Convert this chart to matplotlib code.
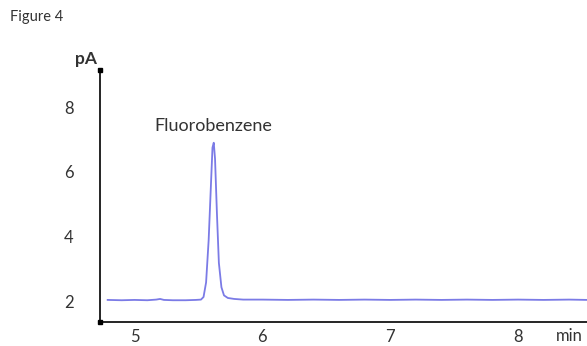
import matplotlib.pyplot as plt

# chromatogram (time in min, signal in pA)
time_min = [4.79, 4.90, 5.00, 5.10, 5.17, 5.20, 5.23, 5.30, 5.40, 5.48, 5.52,
            5.54, 5.56, 5.58, 5.60, 5.61, 5.62, 5.63, 5.645, 5.66, 5.68, 5.70,
            5.73, 5.78, 5.85, 6.00, 6.20, 6.40, 6.60, 6.80, 7.00, 7.20, 7.40,
            7.60, 7.80, 8.00, 8.20, 8.40, 8.54]
signal_pa = [2.06, 2.05, 2.06, 2.05, 2.07, 2.09, 2.06, 2.05, 2.05, 2.06, 2.07,
             2.15, 2.6, 3.9, 5.8, 6.75, 6.9, 6.4, 4.7, 3.2, 2.45, 2.2,
             2.12, 2.09, 2.07, 2.07, 2.06, 2.07, 2.06, 2.07, 2.06, 2.07, 2.06,
             2.07, 2.06, 2.07, 2.06, 2.07, 2.06]

x_ticks = [5, 6, 7, 8]
y_ticks = [2, 4, 6, 8]
peak_name = "Fluorobenzene"
peak_time = 5.62
peak_height = 6.9

plt.rcParams['font.family'] = ['Lato', 'DejaVu Sans']
text_color = "#333333"

fig = plt.figure(figsize=(5.87, 3.46), dpi=100)
fig.text(10 / 587, 1 - 17 / 346, "Figure 4", fontsize=10.5, color=text_color,
         va="center", ha="left")

ax = fig.add_axes([100 / 587, 24 / 346, 487 / 587, 252 / 346])
ax.plot(time_min, signal_pa, color="#7b7be6", lw=1.3)

ax.set_xlim(4.73, 8.54)
ax.set_ylim(1.38, 9.14)
ax.set_xticks(x_ticks)
ax.set_yticks(y_ticks)
ax.tick_params(length=0, labelsize=12, labelcolor=text_color, pad=5)
ax.tick_params(axis="y", pad=19)

for side in ["top", "right"]:
    ax.spines[side].set_visible(False)
for side in ["left", "bottom"]:
    ax.spines[side].set_color("black")
    ax.spines[side].set_linewidth(1.2)

# dots at the origin and the top of the y axis
ax.plot([0, 0], [0, 1], ls="none", marker="s", ms=3, color="black",
        transform=ax.transAxes, clip_on=False)

ax.annotate(peak_name, (peak_time, peak_height), xytext=(0, 6),
            textcoords="offset points", ha="center", va="bottom",
            fontsize=13, color=text_color)

ax.text(-0.006, 1.01, "pA", transform=ax.transAxes, ha="right", va="bottom",
        fontsize=12.5, color=text_color, fontweight="bold")
ax.text(8.40, -0.025, "min", transform=ax.get_xaxis_transform(), ha="center",
        va="top", fontsize=12, color=text_color)

fig.savefig("out.png", dpi=100)
